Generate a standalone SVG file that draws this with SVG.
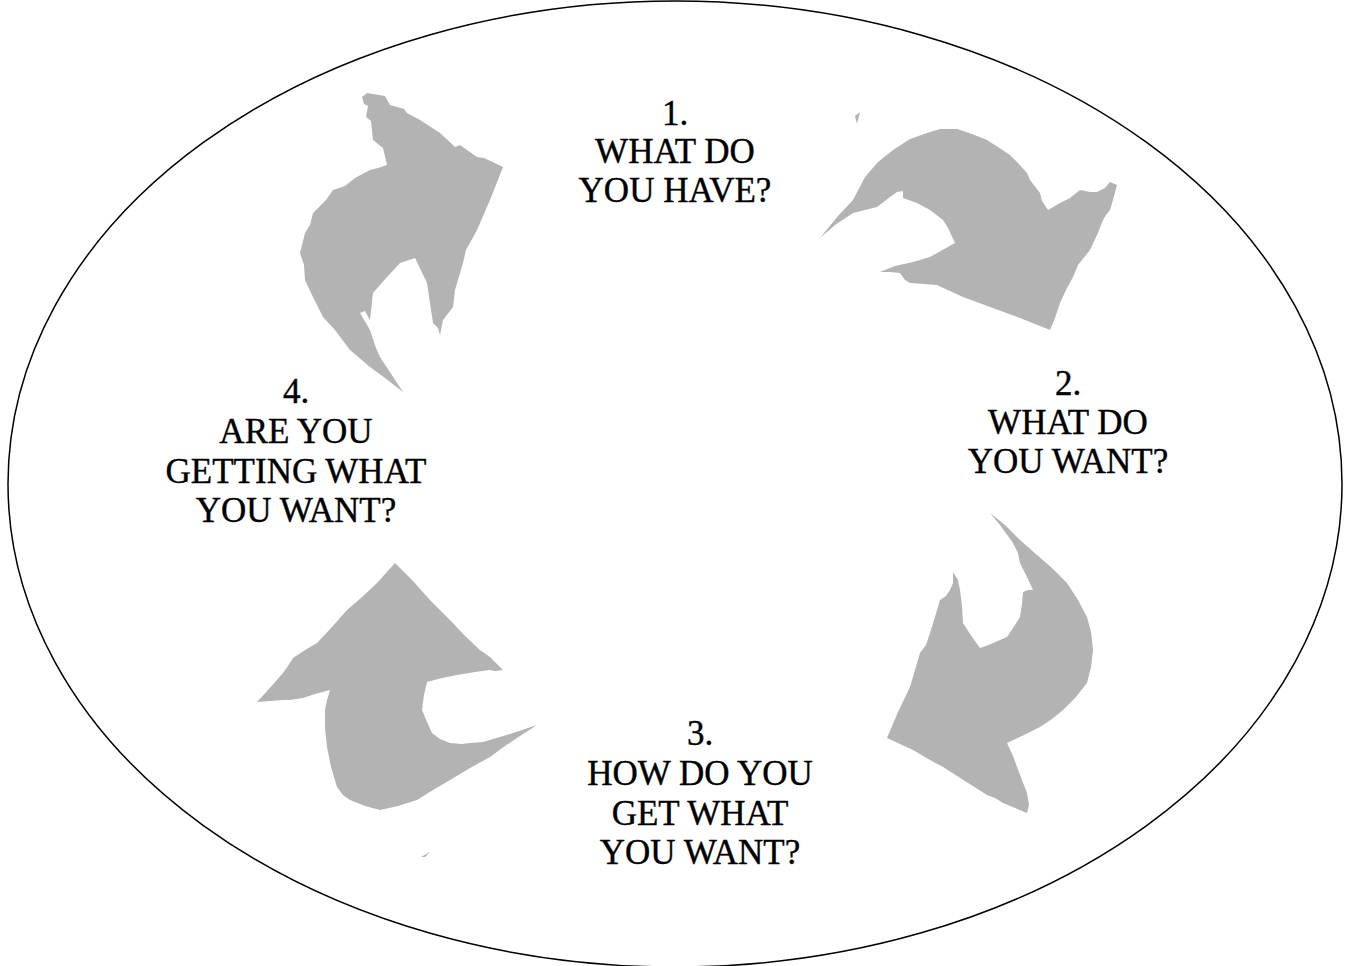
<svg xmlns="http://www.w3.org/2000/svg" width="1350" height="966" viewBox="0 0 1350 966">
<style>
.arrow{fill:#b3b3b3;stroke:none}
.lbl{font-family:"Liberation Serif","DejaVu Serif",serif;font-size:35px;fill:#000;stroke:#000;stroke-width:0.4;text-anchor:middle}
</style>
<rect width="1350" height="966" fill="#fff"/>
<ellipse id="frame" cx="675" cy="484" rx="667" ry="483" fill="none" stroke="#000" stroke-width="1.5"/>
<g id="arrows">
<polygon id="arrow-a" class="arrow" points="403,392 380,357 376,348 370,330 360,313 365,311 370,320 373,293 380,285 387,277 400,263 415,258 427,283 433,323 438,328 440,335 443,320 453,307 455,290 463,263 466,250 477,230 490,200 503,167 484,158 477,157 460,145 455,147 440,133 420,120 407,113 404,109 390,105 385,96 367,93 362,97 364,104 368,106 366,117 371,121 373,140 383,148 387,165 378,168 370,170 355,178 345,186 333,190 326,200 313,213 310,225 305,233 300,253 304,265 305,280 312,295 323,317 335,330 350,350 370,367 385,378"/>
<polygon id="arrow-b" class="arrow" points="820,238 835,225 853,213 865,210 877,207 890,197 897,192 903,191 903,198 917,203 930,210 943,220 948,228 955,243 930,257 913,262 895,266 880,272 890,272 900,273 905,280 910,283 937,285 963,297 990,307 1020,318 1050,330 1055,318 1060,303 1066,290 1073,277 1078,265 1090,250 1097,235 1103,220 1106,215 1110,210 1113,200 1117,185 1110,182 1105,188 1097,192 1090,192 1080,190 1070,198 1060,203 1048,210 1042,201 1040,193 1030,180 1027,173 1018,163 1010,155 998,147 987,140 972,134 957,129 940,129 927,133 910,139 893,150 878,162 865,177 853,200 838,216"/>
<polygon id="arrow-c" class="arrow" points="990,513 1005,525 1020,540 1037,555 1052,568 1067,583 1078,600 1087,617 1091,632 1093,650 1091,667 1087,683 1076,697 1063,710 1052,719 1040,727 1022,736 1007,743 1013,756 1017,767 1022,780 1027,793 1029,805 1027,813 1015,808 1003,803 995,798 987,795 965,781 943,767 930,760 913,750 900,744 887,738 898,712 910,687 915,670 920,653 926,645 930,633 935,617 940,600 946,596 950,590 953,583 953,572 958,580 960,590 962,606 963,623 970,634 980,648 986,646 993,643 1000,640 1007,637 1013,628 1020,617 1022,604 1023,592 1028,590 1033,590 1027,577 1020,563 1018,553 1013,543 1000,525"/>
<polygon id="arrow-d" class="arrow" points="395,563 412,580 430,600 440,610 450,620 465,636 480,650 490,657 503,670 495,671 490,670 475,672 457,675 442,678 427,682 424,695 422,710 427,722 432,733 440,739 450,743 462,744 470,743 483,742 510,734 537,725 520,736 505,746 490,757 470,768 450,780 433,790 417,800 398,806 380,810 365,806 350,800 343,795 337,787 331,767 327,747 325,728 325,710 327,700 330,690 315,694 303,698 290,700 283,700 270,701 257,702 268,690 283,673 288,666 293,658 305,650 317,643 332,627 347,610 362,597 377,583 386,573"/>
<path class="arrow" d="M855,116 L860,112 L857,124 Z"/>
<path class="arrow" d="M421,857 L430,852 L425,857 Z"/>
</g>
<g id="node-1">
<text class="lbl" x="675" y="125">1.</text>
<text class="lbl" x="675" y="163">WHAT DO</text>
<text class="lbl" x="675" y="202">YOU HAVE?</text>
</g>
<g id="node-2">
<text class="lbl" x="1068" y="395">2.</text>
<text class="lbl" x="1068" y="434">WHAT DO</text>
<text class="lbl" x="1068" y="473">YOU WANT?</text>
</g>
<g id="node-3">
<text class="lbl" x="700" y="745">3.</text>
<text class="lbl" x="700" y="785">HOW DO YOU</text>
<text class="lbl" x="700" y="825">GET WHAT</text>
<text class="lbl" x="700" y="864">YOU WANT?</text>
</g>
<g id="node-4">
<text class="lbl" x="296" y="403">4.</text>
<text class="lbl" x="296" y="443">ARE YOU</text>
<text class="lbl" x="296" y="483">GETTING WHAT</text>
<text class="lbl" x="296" y="522">YOU WANT?</text>
</g>
</svg>
